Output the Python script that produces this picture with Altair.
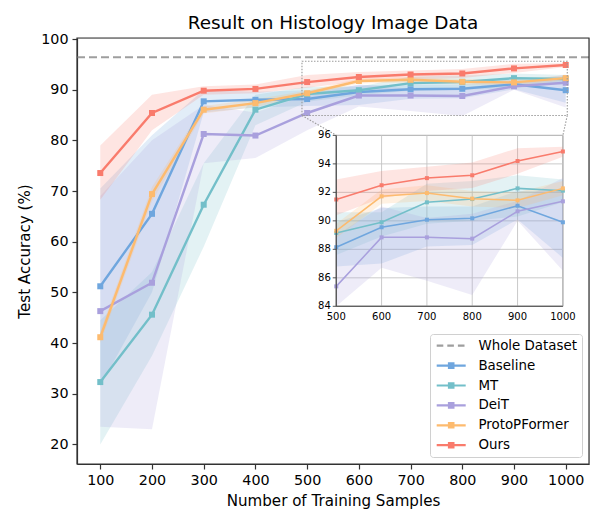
import altair as alt
import pandas as pd

# ---------------- data ----------------
X = [100, 200, 300, 400, 500, 600, 700, 800, 900, 1000]
SERIES = ["Baseline", "MT", "DeiT", "ProtoPFormer", "Ours"]
COLORS = ["#6FA6DE", "#73BFC9", "#A9A0DD", "#FDBB6F", "#F97B6C"]

BASELINE = [51.2, 65.5, 87.7, 88.0, 88.15, 89.55, 90.08, 90.18, 91.06, 89.9]
MT = [32.3, 45.6, 67.3, 86.05, 89.15, 89.9, 91.3, 91.53, 92.28, 92.12]
DEIT = [46.3, 51.9, 81.25, 80.95, 85.4, 88.84, 88.84, 88.75, 90.67, 91.37]
PROTO = [41.15, 69.4, 86.05, 87.35, 89.3, 91.72, 91.95, 91.56, 91.44, 92.28]
OURS = [73.55, 85.4, 89.8, 90.15, 91.5, 92.5, 93.0, 93.2, 94.2, 94.87]

BASELINE_LO = [31.5, 50.0, 85.5, 86.5, 86.8, 87.0, 88.2, 88.3, 90.1, 87.4]
BASELINE_HI = [70.5, 81.0, 90.0, 89.6, 89.9, 90.9, 91.0, 91.0, 92.1, 92.1]
MT_LO = [20.0, 37.5, 59.0, 83.0, 87.6, 88.9, 89.8, 90.0, 90.3, 91.3]
MT_HI = [44.5, 54.0, 75.5, 89.0, 90.6, 90.6, 92.6, 92.8, 93.2, 92.9]
DEIT_LO = [23.5, 23.0, 75.5, 76.5, 82.0, 86.7, 85.8, 84.8, 90.0, 86.5]
DEIT_HI = [69.0, 80.0, 87.0, 85.5, 89.0, 91.0, 90.2, 90.5, 91.4, 93.0]
PROTO_LO = [40.0, 68.0, 85.3, 86.6, 88.8, 91.2, 91.4, 91.0, 90.9, 91.8]
PROTO_HI = [42.3, 70.8, 86.8, 88.1, 89.8, 92.2, 92.5, 92.1, 92.0, 92.8]
OURS_LO = [68.3, 82.0, 89.0, 89.3, 90.4, 91.6, 92.1, 92.3, 93.3, 94.5]
OURS_HI = [79.0, 89.0, 90.7, 91.0, 92.9, 93.5, 93.8, 94.1, 95.1, 95.2]

WHOLE_LABEL = "Whole Dataset"
WHOLE_VALUE = [96.4]
WHOLE_COLOR = "#9E9E9E"

Y_TICKS = [20, 30, 40, 50, 60, 70, 80, 90, 100]
INSET_X_TICKS = [500, 600, 700, 800, 900, 1000]
INSET_Y_TICKS = [84, 86, 88, 90, 92, 94, 96]

# zoom rectangle (main data coords) and inset placement (main data coords)
RECT_X = [490, 1003]
RECT_Y = [84.9, 95.6]
INSET_BOX_X = [556.3, 994.5]
INSET_BOX_Y = [47.25, 80.98]

# ---------------- layout ----------------
W, H = 512, 426
PAD = {"left": 69, "top": 30, "right": 1, "bottom": 49}
MAIN_X_DOMAIN = [55, 1045]
MAIN_Y_DOMAIN = [16.13, 100.2]
FONT = "DejaVu Sans"
INSET_TICK_PX = 3.5


def px(v):
    return (v - MAIN_X_DOMAIN[0]) / (MAIN_X_DOMAIN[1] - MAIN_X_DOMAIN[0]) * W


def py(v):
    return (MAIN_Y_DOMAIN[1] - v) / (MAIN_Y_DOMAIN[1] - MAIN_Y_DOMAIN[0]) * H


INSET_RANGE_X = [px(INSET_BOX_X[0]), px(INSET_BOX_X[1])]
INSET_RANGE_Y = [py(INSET_BOX_Y[0]), py(INSET_BOX_Y[1])]
IX_DOM = [INSET_X_TICKS[0], INSET_X_TICKS[-1]]
IY_DOM = [INSET_Y_TICKS[0], INSET_Y_TICKS[-1]]
# tick lengths of the inset, in inset data units
TICK_DX = INSET_TICK_PX * (IX_DOM[1] - IX_DOM[0]) / (INSET_RANGE_X[1] - INSET_RANGE_X[0])
TICK_DY = INSET_TICK_PX * (IY_DOM[1] - IY_DOM[0]) / (INSET_RANGE_Y[0] - INSET_RANGE_Y[1])

# ---------------- tables ----------------
vals = [BASELINE, MT, DEIT, PROTO, OURS]
los = [BASELINE_LO, MT_LO, DEIT_LO, PROTO_LO, OURS_LO]
his = [BASELINE_HI, MT_HI, DEIT_HI, PROTO_HI, OURS_HI]
rows = []
for s, v, lo, hi in zip(SERIES, vals, los, his):
    for i, x in enumerate(X):
        rows.append({"series": s, "x": x, "y": v[i], "lo": lo[i], "hi": hi[i]})
df = pd.DataFrame(rows)
df_in = df[df["x"] >= INSET_X_TICKS[0]]

whole_df = pd.DataFrame({"series": [WHOLE_LABEL], "v": WHOLE_VALUE})
rect_df = pd.DataFrame({"x0": [RECT_X[0]], "x1": [RECT_X[1]], "y0": [RECT_Y[0]], "y1": [RECT_Y[1]]})
conn_df = pd.DataFrame({
    "x0": [RECT_X[0], RECT_X[1]], "y0": [RECT_Y[0], RECT_Y[0]],
    "x1": [INSET_BOX_X[0], INSET_BOX_X[1]], "y1": [INSET_BOX_Y[1], INSET_BOX_Y[1]],
})
frame_df = pd.DataFrame({"x0": [MAIN_X_DOMAIN[0]], "x1": [MAIN_X_DOMAIN[1]],
                         "y0": [MAIN_Y_DOMAIN[0]], "y1": [MAIN_Y_DOMAIN[1]]})
legend_df = pd.DataFrame({"series": [WHOLE_LABEL] + SERIES})

DOMAIN = [WHOLE_LABEL] + SERIES
RANGE = [WHOLE_COLOR] + COLORS
cscale = alt.Scale(domain=DOMAIN, range=RANGE)

# legend symbols (filled paths): a bar with a square marker / a dashed bar
LINE_SQ = "M-1,-0.22H4.8V0.22H-1Z M1.24,-0.66H2.56V0.66H1.24Z"
DASHED = ("M-1,-0.22H0.32V0.22H-1Z M1.12,-0.22H2.44V0.22H1.12Z "
          "M3.24,-0.22H4.56V0.22H3.24Z")
shape_scale = alt.Scale(domain=DOMAIN, range=[DASHED] + [LINE_SQ] * len(SERIES))

legend = alt.Legend(
    title=None, orient="bottom-right", offset=7,
    symbolType=LINE_SQ, symbolSize=100, symbolStrokeWidth=0, symbolOpacity=1,
    labelFontSize=13.4, labelFont=FONT, labelColor="black", labelFontWeight="normal",
    labelOffset=30, rowPadding=4.9, padding=5, strokeColor="#d0d0d0",
    fillColor="#ffffff", cornerRadius=3,
)

# ---------------- main axes ----------------
mxs = alt.Scale(domain=MAIN_X_DOMAIN, nice=False, zero=False)
mys = alt.Scale(domain=MAIN_Y_DOMAIN, nice=False, zero=False)
mx_axis = alt.Axis(values=X, format="d", title="Number of Training Samples", grid=False,
                   labelFontSize=14.3, titleFontSize=15.1, tickSize=5, labelPadding=4,
                   titlePadding=6, domainColor="#333", tickColor="#333", domainWidth=1.2,
                   tickWidth=1.2, labelColor="black", titleColor="black",
                   titleFontWeight="normal", labelFont=FONT, titleFont=FONT)
my_axis = alt.Axis(values=Y_TICKS, format="d", title="Test Accuracy (%)", grid=False,
                   labelFontSize=14.3, titleFontSize=15.1, tickSize=5, labelPadding=4,
                   titlePadding=8, domainColor="#333", tickColor="#333", domainWidth=1.2,
                   tickWidth=1.2, labelColor="black", titleColor="black",
                   titleFontWeight="normal", labelFont=FONT, titleFont=FONT)


def MX(f):
    return alt.X(f, type="quantitative", scale=mxs, axis=mx_axis)


def MY(f):
    return alt.Y(f, type="quantitative", scale=mys, axis=my_axis)


# legend carrier comes FIRST so its legend settings win the layer merge
legend_layer = alt.Chart(legend_df).mark_point(filled=True, size=100, opacity=0).encode(
    x=alt.value(0), y=alt.value(0),
    color=alt.Color("series:N", scale=cscale, legend=legend),
    shape=alt.Shape("series:N", scale=shape_scale, legend=legend))

base = alt.Chart(df)
bands = base.mark_area(opacity=0.2, interpolate="linear").encode(
    x=MX("x"), y=MY("lo"), y2="hi",
    color=alt.Color("series:N", scale=cscale, legend=None))
whole = alt.Chart(whole_df).mark_rule(strokeDash=[8, 4], strokeWidth=2).encode(
    y=MY("v"), color=alt.Color("series:N", scale=cscale, legend=None))
lines = base.mark_line(strokeWidth=2.4).encode(
    x=MX("x"), y=MY("y"), color=alt.Color("series:N", scale=cscale, legend=None))
points = base.mark_point(shape="square", filled=True, size=36, opacity=1).encode(
    x=MX("x"), y=MY("y"), color=alt.Color("series:N", scale=cscale, legend=None))
zoom_rect = alt.Chart(rect_df).mark_rect(fillOpacity=0, stroke="#9a9a9a", strokeWidth=1.1,
                                         strokeDash=[1.5, 1.5]).encode(
    x=MX("x0"), x2="x1", y=MY("y0"), y2="y1")
connectors = alt.Chart(conn_df).mark_rule(color="#9a9a9a", strokeWidth=1.1,
                                          strokeDash=[1.5, 1.5]).encode(
    x=MX("x0"), y=MY("y0"), x2="x1", y2="y1")
frame = alt.Chart(frame_df).mark_rect(fillOpacity=0, stroke="#333", strokeWidth=1.2).encode(
    x=MX("x0"), x2="x1", y=MY("y0"), y2="y1")

main = alt.layer(legend_layer, bands, whole, lines, points, zoom_rect, connectors, frame)

# ---------------- inset (own scales, axes drawn as marks) ----------------
ixs = alt.Scale(domain=IX_DOM, range=INSET_RANGE_X, nice=False, zero=False)
iys = alt.Scale(domain=IY_DOM, range=INSET_RANGE_Y, nice=False, zero=False, clamp=True)


def IX(f):
    return alt.X(f, type="quantitative", scale=ixs, axis=None)


def IY(f):
    return alt.Y(f, type="quantitative", scale=iys, axis=None)


inset_bg_df = pd.DataFrame({"x0": [IX_DOM[0]], "x1": [IX_DOM[1]],
                            "y0": [IY_DOM[0]], "y1": [IY_DOM[1]]})
vgrid_df = pd.DataFrame({"t": INSET_X_TICKS, "a": IY_DOM[0], "b": IY_DOM[1],
                         "c": IY_DOM[0] - TICK_DY})
hgrid_df = pd.DataFrame({"t": INSET_Y_TICKS, "a": IX_DOM[0], "b": IX_DOM[1],
                         "c": IX_DOM[0] - TICK_DX})
spine_df = pd.DataFrame({"x0": [IX_DOM[0], IX_DOM[0]], "x1": [IX_DOM[0], IX_DOM[1]],
                         "y0": [IY_DOM[0], IY_DOM[0]], "y1": [IY_DOM[1], IY_DOM[0]]})

inset_bg = alt.Chart(inset_bg_df).mark_rect(fill="white", stroke="#888", strokeWidth=1).encode(
    x=IX("x0"), x2="x1", y=IY("y0"), y2="y1")
vgrid = alt.Chart(vgrid_df).mark_rule(color="#c4c4c4", strokeWidth=0.9).encode(
    x=IX("t"), y=IY("a"), y2="b")
hgrid = alt.Chart(hgrid_df).mark_rule(color="#c4c4c4", strokeWidth=0.9).encode(
    y=IY("t"), x=IX("a"), x2="b")
ibase = alt.Chart(df_in)
ibands = ibase.mark_area(opacity=0.2).encode(
    x=IX("x"), y=IY("lo"), y2="hi",
    color=alt.Color("series:N", scale=cscale, legend=None))
ilines = ibase.mark_line(strokeWidth=1.5).encode(
    x=IX("x"), y=IY("y"), color=alt.Color("series:N", scale=cscale, legend=None))
ipoints = ibase.mark_point(shape="square", filled=True, size=16, opacity=1).encode(
    x=IX("x"), y=IY("y"), color=alt.Color("series:N", scale=cscale, legend=None))
spines = alt.Chart(spine_df).mark_rule(color="#444", strokeWidth=1.1).encode(
    x=IX("x0"), x2="x1", y=IY("y0"), y2="y1")
xticks = alt.Chart(vgrid_df).mark_rule(color="#444", strokeWidth=0.9).encode(
    x=IX("t"), y=IY("a"), y2="c")
yticks = alt.Chart(hgrid_df).mark_rule(color="#444", strokeWidth=0.9).encode(
    y=IY("t"), x=IX("a"), x2="c")
xlabels = alt.Chart(vgrid_df).mark_text(fontSize=10, font=FONT, color="black",
                                        baseline="top", dy=INSET_TICK_PX + 2).encode(
    x=IX("t"), y=IY("a"), text=alt.Text("t:Q", format="d"))
ylabels = alt.Chart(hgrid_df).mark_text(fontSize=10, font=FONT, color="black",
                                        align="right", baseline="middle",
                                        dx=-(INSET_TICK_PX + 2)).encode(
    x=IX("a"), y=IY("t"), text=alt.Text("t:Q", format="d"))

inset = alt.layer(inset_bg, vgrid, hgrid, ibands, ilines, ipoints,
                  spines, xticks, yticks, xlabels, ylabels)

chart = alt.layer(main, inset).resolve_scale(
    x="independent", y="independent"
).properties(
    width=W, height=H,
    title=alt.TitleParams("Result on Histology Image Data", fontSize=18.4, font=FONT,
                          fontWeight="normal", color="black", anchor="middle", offset=0),
    padding=PAD,
    autosize=alt.AutoSizeParams(type="none"),
).configure_view(stroke="#333", strokeWidth=1.2).configure(background="white")

chart.save("out.html", embed_options={"renderer": "svg", "actions": False})
